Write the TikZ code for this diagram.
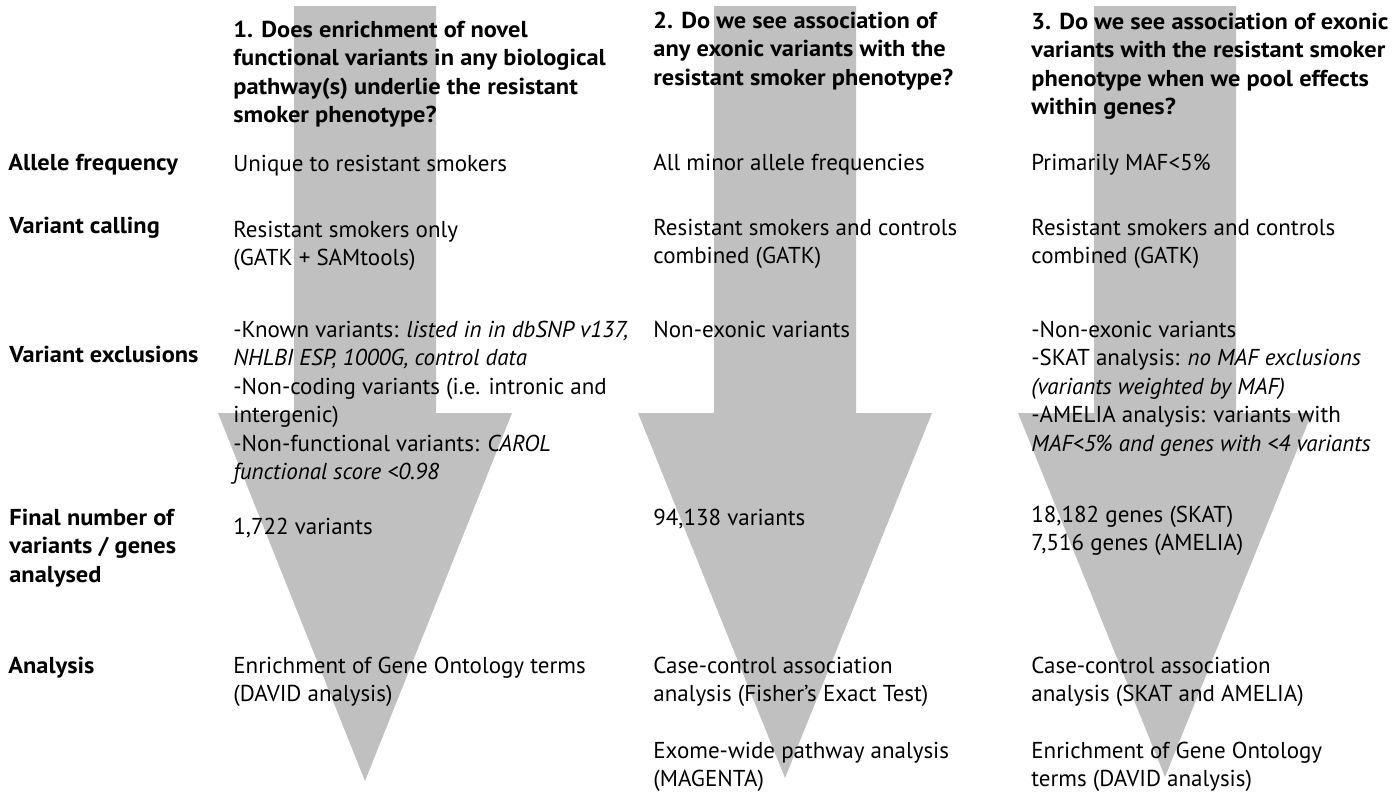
\documentclass[tikz,border=0pt]{standalone}
\usepackage{fontspec}
\setmainfont{PT Sans}[BoldFeatures={FakeStretch=1.06}]
\usepackage{tikz}
\definecolor{arrowgray}{RGB}{192,192,192}

\begin{document}
\begin{tikzpicture}[x=0.5pt,y=-0.5pt,
  txt/.style={anchor=base west,inner sep=0pt,align=left,font=\fontsize{11.5}{14.25}\selectfont},
  lbl/.style={txt,font=\fontsize{11.5}{14.25}\selectfont\bfseries}]
\useasboundingbox (0,0) rectangle (1395,800);
%画布(useasboundingbox)大小与原图相同
\foreach \c/\t in {365/781,785/778,1165/777}
  {\fill[arrowgray] (\c-71,6) -- (\c+71,6) -- (\c+71,413) -- (\c+147,413) -- (\c,\t) -- (\c-147,413) -- (\c-71,413) -- cycle;}
%三个灰色(arrowgray)大箭头,中心在\c,箭尖在(\c,\t)
%多行文字的 base 在最后一行,所以坐标给的是最后一行的基线
\node[lbl] (q1) at (233,122.5) {1. Does enrichment of novel\\functional variants in any biological\\pathway(s) underlie the resistant\\smoker phenotype?};
\node[lbl] (q2) at (653,85) {2. Do we see association of\\any exonic variants with the\\resistant smoker phenotype?};
\node[lbl] (q3) at (1031,114.5) {3. Do we see association of exonic\\variants with the resistant smoker\\phenotype when we pool effects\\within genes?};
%三列标题(q1,q2,q3),粗体
\node[lbl] (freq) at (8,170) {Allele frequency};
\node[lbl] (call) at (9,233) {Variant calling};
\node[lbl] (excl) at (9,362) {Variant exclusions};
\node[lbl] (final) at (9,582) {Final number of\\variants / genes\\analysed};
\node[lbl] (anal) at (8,673) {Analysis};
%左侧行标题
\node[txt] (freq1) at (233,171) {Unique to resistant smokers};
\node[txt] (freq2) at (653,170) {All minor allele frequencies};
\node[txt] (freq3) at (1031,170) {Primarily MAF<5\%};
%等位基因频率(freq)
\node[txt] (call1) at (233,265.5) {Resistant smokers only\\(GATK + SAMtools)};
\node[txt] (call2) at (653,263.5) {Resistant smokers and controls\\combined (GATK)};
\node[txt] (call3) at (1031,263.5) {Resistant smokers and controls\\combined (GATK)};
%变异检出(call)
\node[txt] (excl1) at (233,479.5) {-Known variants: \textit{listed in in dbSNP v137,}\\\textit{NHLBI ESP, 1000G, control data}\\-Non-coding variants (i.e. intronic and\\intergenic)\\-Non-functional variants: \textit{CAROL}\\\textit{functional score <0.98}};
\node[txt] (excl2) at (653,337) {Non-exonic variants};
\node[txt] (excl3) at (1031,451) {-Non-exonic variants\\-SKAT analysis: \textit{no MAF exclusions}\\\textit{(variants weighted by MAF)}\\-AMELIA analysis: variants with\\\textit{MAF<5\% and genes with <4 variants}};
%变异排除(excl)
\node[txt] (final1) at (233,534) {1,722 variants};
\node[txt] (final2) at (653,525) {94,138 variants};
\node[txt] (final3) at (1031,550.5) {18,182 genes (SKAT)\\7,516 genes (AMELIA)};
%最终数目(final)
\node[txt] (anal1) at (233,701.5) {Enrichment of Gene Ontology terms\\(DAVID analysis)};
\node[txt] (anal2) at (653,701.5) {Case-control association\\analysis (Fisher’s Exact Test)};
\node[txt] (path2) at (653,786.5) {Exome-wide pathway analysis\\(MAGENTA)};
\node[txt] (anal3) at (1031,701.5) {Case-control association\\analysis (SKAT and AMELIA)};
\node[txt] (path3) at (1031,786.5) {Enrichment of Gene Ontology\\terms (DAVID analysis)};
%分析(anal, path)
\end{tikzpicture}
\end{document}
